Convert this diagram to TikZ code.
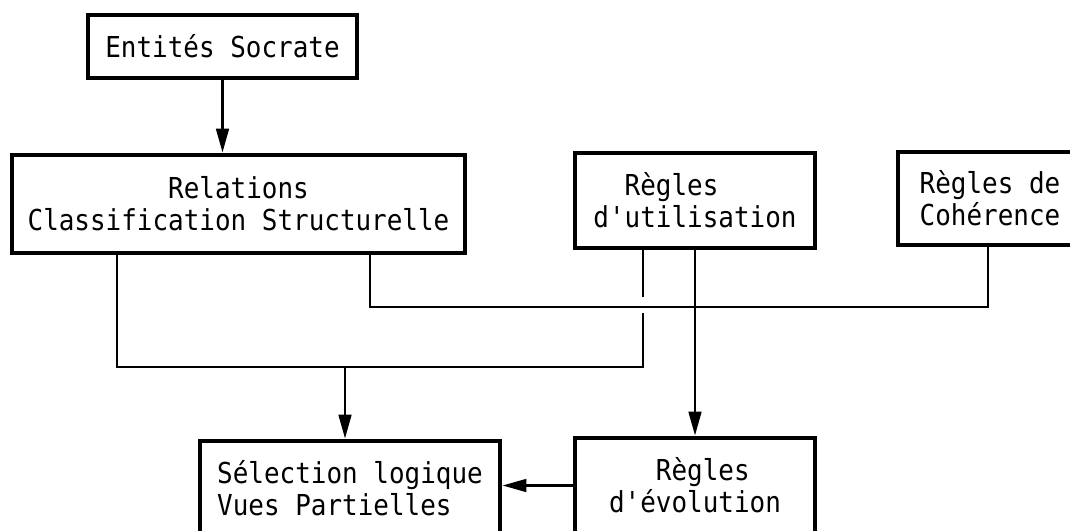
\documentclass[tikz,border=0pt]{standalone}
\usepackage{fontspec}
\setmonofont[FakeStretch=0.9]{DejaVu Sans Mono}
\usetikzlibrary{arrows.meta, positioning, calc}

\tikzstyle{box}   = [rectangle, draw=black, line width=3.4pt, inner sep=0pt,
                     font=\ttfamily\fontsize{20.5pt}{22.8pt}\selectfont]
\tikzstyle{wire}  = [line width=1.8pt, line join=miter]
\tikzstyle{arrow} = [-{Triangle[length=17pt, width=9pt]}, line width=1.8pt]

\begin{document}
\begin{tikzpicture}[x=0.025cm, y=-0.025cm]

  \useasboundingbox (0,0) rectangle (1070,531);
  \clip (0,0) rectangle (1070,531);

  %% Top row
  \node[box, minimum width=6.725cm, minimum height=1.575cm] (ent)
        at (222.5,46.5) {Entités Socrate};

  %% Middle row
  \node[box, minimum width=11.325cm, minimum height=2.45cm, align=center] (rel)
        at (238.5,204) {Relations\\Classification Structurelle};
  \node[box, minimum width=6cm, minimum height=2.375cm, align=left] (utl)
        at (695,200.5) {\phantom{xx}Règles\\d'utilisation};
  \node[box, minimum width=4.6cm, minimum height=2.325cm, align=left] (coh)
        at (990,198.5) {Règles de\\Cohérence};

  %% Bottom row
  \node[box, minimum width=7.5cm, minimum height=2.375cm, align=left] (sel)
        at (350,488.5) {Sélection logique\\Vues Partielles};
  \node[box, minimum width=6cm, minimum height=2.375cm, align=left] (evo)
        at (695,485.5) {\phantom{xxx}Règles\\d'évolution};

  %% Junctions
  \coordinate (jA) at (117,367);
  \coordinate (jB) at (643,367);
  \coordinate (jC) at (345,367);
  \coordinate (gapT) at (643,297);
  \coordinate (gapB) at (643,313);
  \coordinate (kA) at (370,307);
  \coordinate (kB) at (988,307);

  %% Arrows
  \draw[arrow] (ent.south) -- (ent.south |- rel.north);
  \draw[wire] (utl.south -| gapT) -- (gapT);
  \draw[wire] (gapB) -- (jB) -- (jA) -- (rel.south -| jA);
  \draw[wire] (rel.south -| kA) -- (kA) -- (kB) -- (coh.south -| kB);
  \draw[arrow] (jC) -- (sel.north -| jC);
  \draw[arrow] (utl.south) -- (evo.north);
  \draw[arrow] (evo.west) -- (evo.west -| sel.east);

\end{tikzpicture}
\end{document}
